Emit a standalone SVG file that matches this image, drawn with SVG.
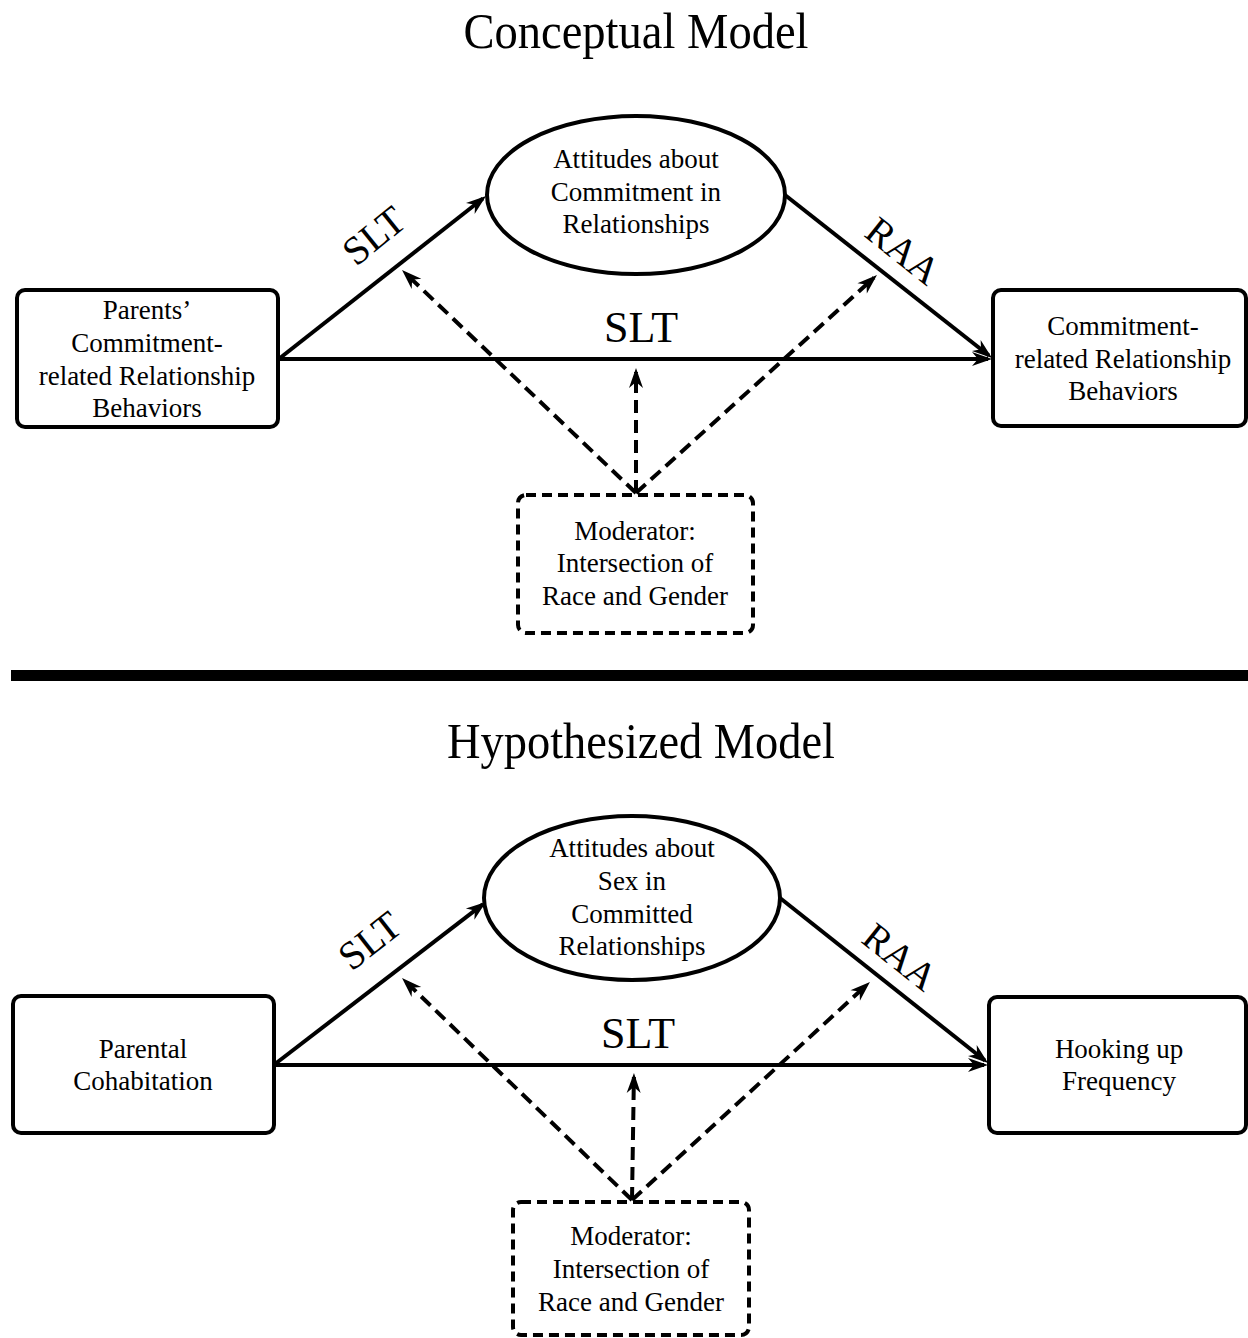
<svg xmlns="http://www.w3.org/2000/svg" width="1248" height="1338" viewBox="0 0 1248 1338">
<style>
text{font-family:"Liberation Serif","Times New Roman",serif;fill:#000;text-anchor:middle}
.title{font-size:50px}
.lbl{font-size:27px}
.big{font-size:44px}
.rot{font-size:40px}
.box{fill:#fff;stroke:#000;stroke-width:4}
.mod{fill:#fff;stroke:#000;stroke-width:4;stroke-dasharray:10 6}
.solid{stroke:#000;stroke-width:4;fill:none;marker-end:url(#arr)}
.dash{stroke:#000;stroke-width:4;fill:none;stroke-dasharray:13 7;marker-end:url(#arr)}
</style>
<defs>
<marker id="arr" markerUnits="userSpaceOnUse" markerWidth="30" markerHeight="20" viewBox="-20 -10 30 20" refX="0" refY="0" orient="auto" overflow="visible">
<path d="M4,0 L-16,-7 L-10,0 L-16,7 Z" fill="#000"/>
</marker>
</defs>
<rect width="1248" height="1338" fill="#fff"/>

<text class="title" x="636" y="48" textLength="345" lengthAdjust="spacingAndGlyphs">Conceptual Model</text>
<rect x="11" y="670" width="1237" height="11" fill="#000"/>
<text class="title" x="641" y="758" textLength="388" lengthAdjust="spacingAndGlyphs">Hypothesized Model</text>

<g id="connectors">
<line class="solid" x1="280" y1="358" x2="482.9" y2="198.5"/>
<line class="solid" x1="280" y1="359" x2="988" y2="359"/>
<line class="solid" x1="785" y1="195" x2="988.9" y2="355.5"/>
<line class="dash" x1="636" y1="493" x2="404.9" y2="272.8"/>
<line class="dash" x1="636" y1="493" x2="874" y2="277.7"/>
<line class="dash" x1="636" y1="493" x2="636" y2="372"/>
<line class="solid" x1="275" y1="1064" x2="482.8" y2="904.4"/>
<line class="solid" x1="275" y1="1065" x2="984" y2="1065"/>
<line class="solid" x1="780" y1="898" x2="984.9" y2="1060.5"/>
<line class="dash" x1="632" y1="1200" x2="404.9" y2="980.8"/>
<line class="dash" x1="632" y1="1200" x2="867" y2="984.7"/>
<line class="dash" x1="632" y1="1200" x2="633.9" y2="1077"/>
<text class="rot" transform="translate(374,236) rotate(-39)" y="13">SLT</text>
<text class="rot" transform="translate(903,251) rotate(38.4)" y="13" style="font-size:39px">RAA</text>
<text class="big" x="641" y="342">SLT</text>
<text class="rot" transform="translate(370,941) rotate(-38)" y="13">SLT</text>
<text class="rot" transform="translate(900,957) rotate(38.4)" y="13" style="font-size:39px">RAA</text>
<text class="big" x="638" y="1048">SLT</text>
</g>

<g id="parents-behaviors">
<rect class="box" x="17" y="290" width="261" height="137" rx="8"/>
<text class="lbl" x="147" y="319">Parents’</text>
<text class="lbl" x="147" y="352">Commitment-</text>
<text class="lbl" x="147" y="385">related Relationship</text>
<text class="lbl" x="147" y="417">Behaviors</text>
</g>
<g id="attitudes-commitment">
<ellipse class="box" cx="636" cy="195" rx="149" ry="79"/>
<text class="lbl" x="636" y="168">Attitudes about</text>
<text class="lbl" x="636" y="201">Commitment in</text>
<text class="lbl" x="636" y="233">Relationships</text>
</g>
<g id="commitment-behaviors">
<rect class="box" x="993" y="290" width="253" height="136" rx="8"/>
<text class="lbl" x="1123" y="335">Commitment-</text>
<text class="lbl" x="1123" y="368">related Relationship</text>
<text class="lbl" x="1123" y="400">Behaviors</text>
</g>
<g id="moderator-top">
<rect class="mod" x="518" y="495" width="235" height="138" rx="8"/>
<text class="lbl" x="635" y="540">Moderator:</text>
<text class="lbl" x="635" y="572">Intersection of</text>
<text class="lbl" x="635" y="605">Race and Gender</text>
</g>

<g id="parental-cohabitation">
<rect class="box" x="13" y="996" width="261" height="137" rx="8"/>
<text class="lbl" x="143" y="1058">Parental</text>
<text class="lbl" x="143" y="1090">Cohabitation</text>
</g>
<g id="attitudes-sex">
<ellipse class="box" cx="632" cy="898" rx="148" ry="82"/>
<text class="lbl" x="632" y="857">Attitudes about</text>
<text class="lbl" x="632" y="890">Sex in</text>
<text class="lbl" x="632" y="923">Committed</text>
<text class="lbl" x="632" y="955">Relationships</text>
</g>
<g id="hooking-up">
<rect class="box" x="989" y="997" width="257" height="136" rx="8"/>
<text class="lbl" x="1119" y="1058">Hooking up</text>
<text class="lbl" x="1119" y="1090">Frequency</text>
</g>
<g id="moderator-bottom">
<rect class="mod" x="513" y="1202" width="236" height="133" rx="8"/>
<text class="lbl" x="631" y="1245">Moderator:</text>
<text class="lbl" x="631" y="1278">Intersection of</text>
<text class="lbl" x="631" y="1311">Race and Gender</text>
</g>
</svg>
